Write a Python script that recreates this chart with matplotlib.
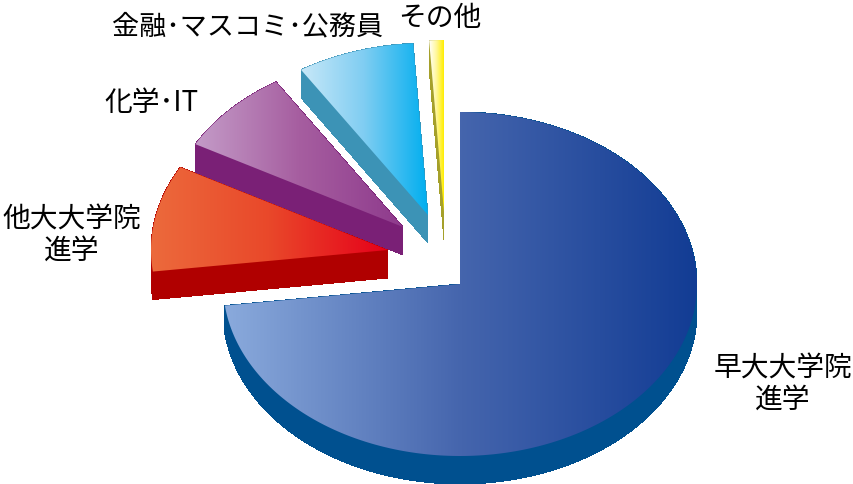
import numpy as np
import matplotlib
matplotlib.use('Agg')
import matplotlib.pyplot as plt
from matplotlib.colors import LinearSegmentedColormap
from matplotlib.collections import PolyCollection
from matplotlib.patches import Polygon

plt.rcParams['font.family'] = ['Noto Sans CJK JP', 'DejaVu Sans']

# shares, going clockwise from 12 o'clock
labels = ['早大大学院\n進学', '他大大学院\n進学', '化学･IT', '金融･マスコミ･公務員', 'その他']
shares = [73, 10, 8, 8, 1]

# layout, in pixels
CX, CY = 460, 284
RX, RY = 237, 172
DEPTH = 28
explode = [(0, 0), (-72, -34), (-57, -57), (-32, -69), (-16, -72)]
left_colors = ['#8aaadc', '#ec6a3c', '#c49cc8', '#c8e8f8', '#ffffff']
mid_colors = ['#4565ad', '#e9482a', '#a65ea0', '#7fcdf2', '#fff79a']
right_colors = ['#123c94', '#e6001a', '#8e3a8c', '#00aeef', '#ffee00']
side_colors = ['#00508f', '#b00000', '#7a2076', '#3c93b6', '#a5a02a']
label_pos = [(783, 384), (72, 235), (151, 103), (248, 27), (440, 18)]
label_sizes = [20, 20, 20, 19.5, 20]


def slice_outline(start, sweep, dx, dy):
    t = np.radians(np.linspace(start, start - sweep, max(int(sweep) * 2, 8)))
    x = np.concatenate([[CX + dx], CX + dx + RX * np.cos(t)])
    y = np.concatenate([[CY + dy], CY + dy - RY * np.sin(t)])
    return np.column_stack([x, y])


fig = plt.figure(figsize=(8.54, 4.84), dpi=100)
ax = fig.add_axes([0, 0, 1, 1])
ax.axis('off')

grad = np.linspace(0, 1, 256).reshape(1, -1)
angle = 90.0
for i, share in enumerate(shares):
    sweep = share * 3.6
    dx, dy = explode[i]
    pts = slice_outline(angle, sweep, dx, dy)
    angle -= sweep

    # side wall: every outline segment pushed down by the depth
    nxt = np.roll(pts, -1, axis=0)
    down = np.array([0, DEPTH])
    quads = np.stack([pts, nxt, nxt + down, pts + down], axis=1)
    ax.add_collection(PolyCollection(quads, facecolors=side_colors[i], edgecolors='none',
                                     linewidths=0, antialiased=False, zorder=2 + i * 0.1))

    # top face with a left to right gradient
    cmap = LinearSegmentedColormap.from_list('s%d' % i, [left_colors[i], mid_colors[i], right_colors[i]])
    im = ax.imshow(grad, cmap=cmap, aspect='auto', zorder=3 + i * 0.1,
                   extent=(pts[:, 0].min(), pts[:, 0].max(), pts[:, 1].max(), pts[:, 1].min()))
    im.set_clip_path(Polygon(pts, closed=True, transform=ax.transData))

ax.set_xlim(0, 854)
ax.set_ylim(484, 0)

for label, (x, y), size in zip(labels, label_pos, label_sizes):
    ax.text(x, y, label, fontsize=size, ha='center', va='center', color='black',
            linespacing=1.07, zorder=6)

fig.savefig('out.png', dpi=100)
